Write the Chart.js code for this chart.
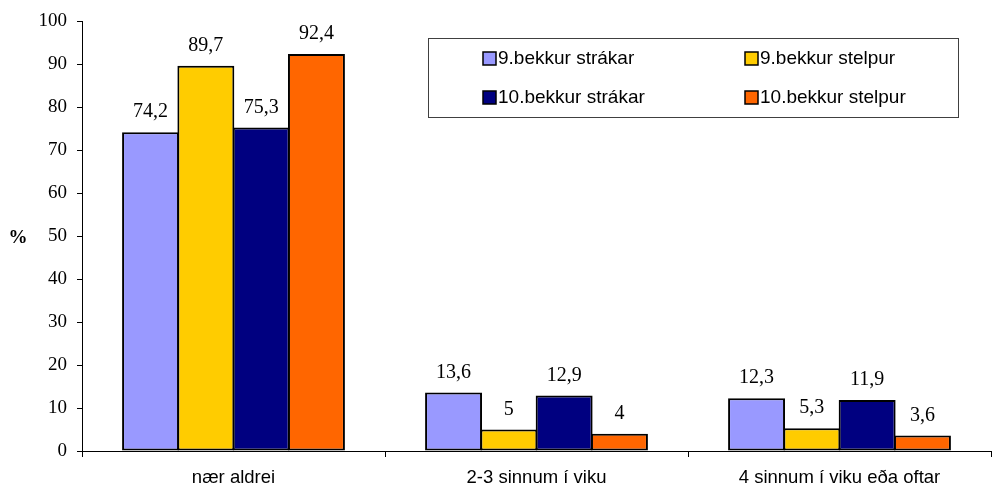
<!DOCTYPE html>
<html>
<head>
<meta charset="utf-8">
<script src="https://cdn.jsdelivr.net/npm/chart.js@4.4.0/dist/chart.umd.min.js"></script>
<style>
  html, body { margin: 0; padding: 0; background: #fff; }
  #wrap { width: 992px; height: 491px; }
</style>
</head>
<body>
<div id="wrap"><canvas id="mainChart" width="992" height="491"></canvas></div>
<script>
// ---- data ----
const categories = ["nær aldrei", "2-3 sinnum í viku", "4 sinnum í viku eða oftar"];
const seriesNames = ["9.bekkur strákar", "9.bekkur stelpur", "10.bekkur strákar", "10.bekkur stelpur"];
const boys9 = [74.2, 13.6, 12.3];
const girls9 = [89.7, 5, 5.3];
const boys10 = [75.3, 12.9, 11.9];
const girls10 = [92.4, 4, 3.6];
const seriesColors = ["#9999FF", "#FFCC00", "#000080", "#FF6600"];
const yTicks = [0, 10, 20, 30, 40, 50, 60, 70, 80, 90, 100];

const allValues = [boys9, girls9, boys10, girls10];

// --- labels above bars ---
const valueLabels = {
  id: "valueLabels",
  afterDatasetsDraw(chart) {
    const ctx = chart.ctx;
    ctx.save();
    ctx.font = "20px 'Liberation Serif', 'Times New Roman', serif";
    ctx.fillStyle = "#000";
    ctx.textAlign = "center";
    ctx.textBaseline = "alphabetic";
    chart.data.datasets.forEach((ds, i) => {
      chart.getDatasetMeta(i).data.forEach((bar, j) => {
        ctx.fillText(String(ds.data[j]).replace(".", ","), bar.x, bar.y - 15);
      });
    });
    ctx.restore();
  }
};

// --- "%" title and boxed legend ---
const extras = {
  id: "extras",
  afterDraw(chart) {
    const ctx = chart.ctx;
    ctx.save();
    ctx.font = "bold 19px 'Liberation Serif', 'Times New Roman', serif";
    ctx.fillStyle = "#000";
    ctx.textAlign = "center";
    ctx.textBaseline = "middle";
    ctx.fillText("%", 18, 238);

    // legend box
    ctx.strokeStyle = "#404040";
    ctx.lineWidth = 1;
    ctx.strokeRect(428.5, 38.5, 530, 79);
    ctx.font = "19px 'Liberation Sans', Arial, sans-serif";
    ctx.textAlign = "left";
    const cols = [483, 745];
    const rows = [58, 97];
    chart.data.datasets.forEach((ds, i) => {
      const x = cols[i % 2], y = rows[Math.floor(i / 2)];
      ctx.fillStyle = ds.backgroundColor;
      ctx.fillRect(x, y - 6, 13, 13);
      ctx.strokeStyle = "#000";
      ctx.lineWidth = 1.5;
      ctx.strokeRect(x, y - 6, 13, 13);
      ctx.fillStyle = "#000";
      ctx.fillText(ds.label, x + 15, y + 1);
    });
    ctx.restore();
  }
};

const ctx = document.getElementById("mainChart").getContext("2d");
new Chart(ctx, {
  type: "bar",
  data: {
    labels: categories,
    datasets: seriesNames.map((name, i) => ({
      label: name,
      data: allValues[i],
      backgroundColor: seriesColors[i],
      borderColor: "#000",
      borderWidth: 2,
      borderSkipped: false,
      categoryPercentage: 0.73,
      barPercentage: 1.03
    }))
  },
  options: {
    responsive: false,
    animation: false,
    layout: { padding: { top: 17, left: 0, right: 1, bottom: 0 } },
    plugins: { legend: { display: false }, tooltip: { enabled: false } },
    scales: {
      x: {
        grid: { display: true, offset: true, drawOnChartArea: false, color: "#000", tickLength: 6, lineWidth: 1 },
        border: { color: "#000", width: 1 },
        ticks: { color: "#000", padding: 10, font: { family: "'Liberation Sans', Arial, sans-serif", size: 18.5 } },
        afterFit(scale) { scale.height = 40; }
      },
      y: {
        min: 0, max: 100,
        afterBuildTicks(scale) { scale.ticks = yTicks.map(v => ({ value: v })); },
        grid: { display: true, drawOnChartArea: false, color: "#000", tickLength: 5 },
        border: { color: "#000", width: 1 },
        ticks: { color: "#000", padding: 10, font: { family: "'Liberation Serif', 'Times New Roman', serif", size: 19 } },
        afterFit(scale) { scale.width = 82; }
      }
    }
  },
  plugins: [valueLabels, extras]
});
</script>
</body>
</html>
